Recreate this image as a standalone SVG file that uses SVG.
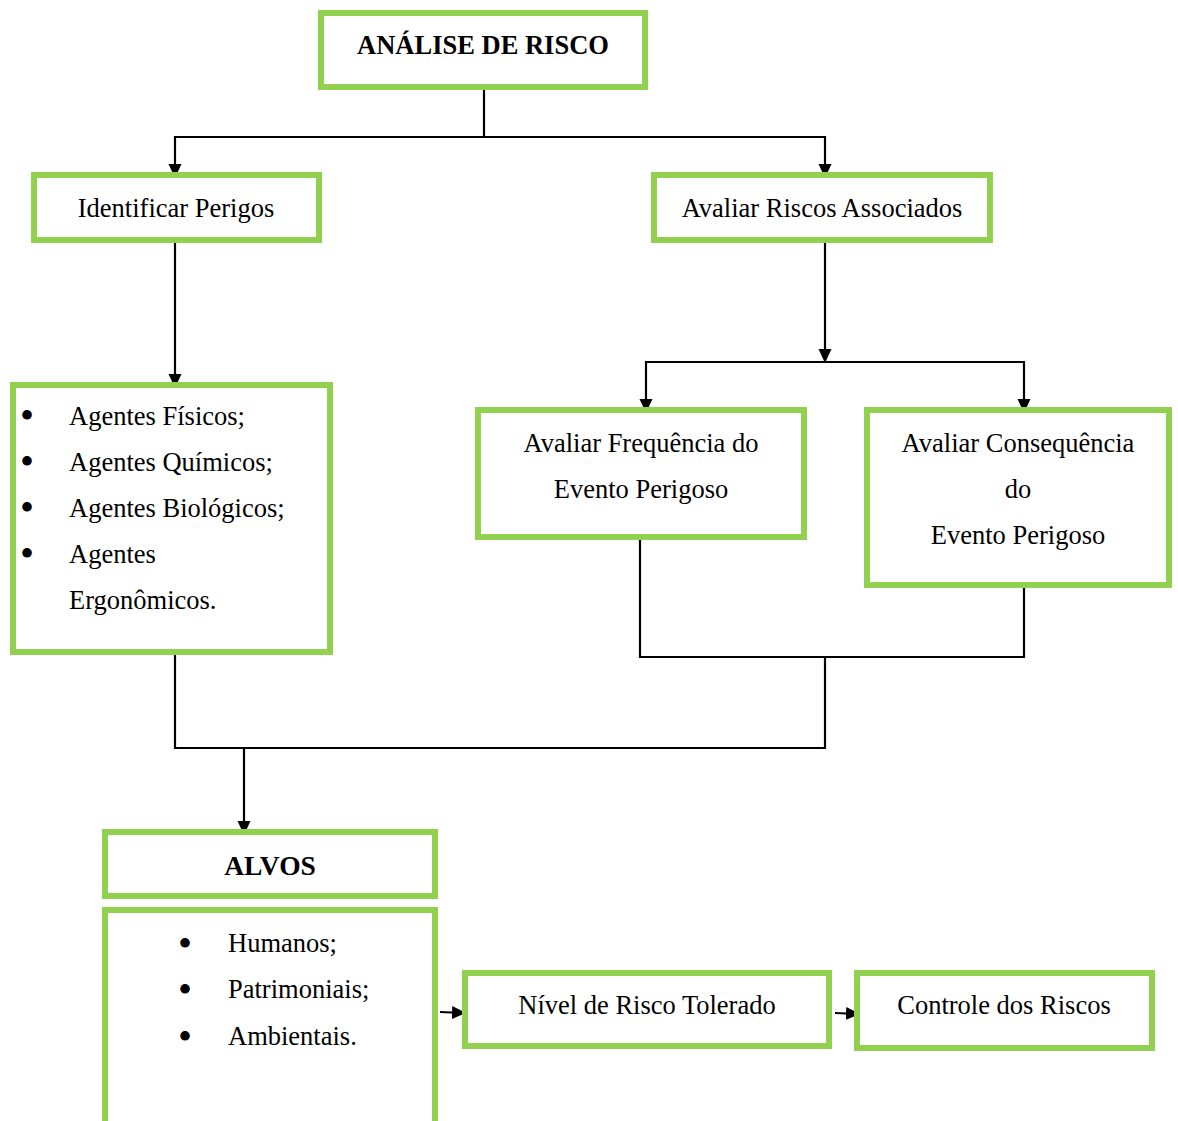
<svg xmlns="http://www.w3.org/2000/svg" width="1178" height="1121" viewBox="0 0 1178 1121">
<style>
.box{fill:#fff;stroke:#92D050;stroke-width:6}
.t{font-family:"Liberation Serif","Times New Roman",serif;font-size:26.5px;fill:#000}
.c{text-anchor:middle}
.b{font-weight:bold}
.bu{font-family:"Liberation Serif","Times New Roman",serif;font-size:40px;fill:#000;text-anchor:middle}
.ln{fill:none;stroke:#000;stroke-width:2.2}
</style>
<defs>
<marker id="ah" viewBox="0 0 14 14" refX="12" refY="7" markerWidth="14" markerHeight="14" orient="auto" markerUnits="userSpaceOnUse">
<path d="M0,0.5 L14,7 L0,13.5 Z" fill="#000"/>
</marker>
</defs>
<rect width="1178" height="1121" fill="#fff"/>
<g id="connectors">
<polyline class="ln" points="484,90 484,137"/>
<polyline class="ln" points="175,137 175,176" marker-end="url(#ah)"/>
<polyline class="ln" points="825,137 825,176" marker-end="url(#ah)"/>
<line class="ln" x1="174" y1="137" x2="826" y2="137"/>
<polyline class="ln" points="175,243 175,386" marker-end="url(#ah)"/>
<polyline class="ln" points="825,243 825,361" marker-end="url(#ah)"/>
<line class="ln" x1="645" y1="362" x2="1025" y2="362"/>
<polyline class="ln" points="646,362 646,411" marker-end="url(#ah)"/>
<polyline class="ln" points="1024,362 1024,411" marker-end="url(#ah)"/>
<polyline class="ln" points="640,540 640,657 1024,657 1024,588"/>
<polyline class="ln" points="825,657 825,748 175,748 175,655"/>
<polyline class="ln" points="244,748 244,833" marker-end="url(#ah)"/>
<polyline class="ln" points="440,1012 464,1013" marker-end="url(#ah)"/>
<polyline class="ln" points="835,1013 858,1014" marker-end="url(#ah)"/>
</g>
<g id="analise">
<rect class="box" x="321" y="13" width="324" height="74"/>
<text class="t c b" x="483" y="54">ANÁLISE DE RISCO</text>
</g>
<g id="identificar">
<rect class="box" x="34" y="175" width="285" height="65"/>
<text class="t c" x="176" y="217">Identificar Perigos</text>
</g>
<g id="avaliar-riscos">
<rect class="box" x="654" y="175" width="336" height="65"/>
<text class="t c" x="822" y="217">Avaliar Riscos Associados</text>
</g>
<g id="agentes">
<rect class="box" x="13" y="385" width="317" height="267"/>
<text class="bu" x="27" y="429">•</text>
<text class="t" x="69" y="425">Agentes Físicos;</text>
<text class="bu" x="27" y="475">•</text>
<text class="t" x="69" y="471">Agentes Químicos;</text>
<text class="bu" x="27" y="521">•</text>
<text class="t" x="69" y="517">Agentes Biológicos;</text>
<text class="bu" x="27" y="567">•</text>
<text class="t" x="69" y="563">Agentes</text>
<text class="t" x="69" y="609">Ergonômicos.</text>
</g>
<g id="frequencia">
<rect class="box" x="478" y="410" width="326" height="127"/>
<text class="t c" x="641" y="452">Avaliar Frequência do</text>
<text class="t c" x="641" y="498">Evento Perigoso</text>
</g>
<g id="consequencia">
<rect class="box" x="867" y="410" width="302" height="175"/>
<text class="t c" x="1018" y="452">Avaliar Consequência</text>
<text class="t c" x="1018" y="498">do</text>
<text class="t c" x="1018" y="544">Evento Perigoso</text>
</g>
<g id="alvos">
<rect class="box" x="105" y="832" width="330" height="64"/>
<text class="t c b" x="270" y="875" style="font-size:27.5px">ALVOS</text>
</g>
<g id="alvos-lista">
<rect class="box" x="105" y="910" width="330" height="240"/>
<text class="bu" x="185" y="957">•</text>
<text class="t" x="228" y="952">Humanos;</text>
<text class="bu" x="185" y="1003">•</text>
<text class="t" x="228" y="998">Patrimoniais;</text>
<text class="bu" x="185" y="1050">•</text>
<text class="t" x="228" y="1045">Ambientais.</text>
</g>
<g id="nivel">
<rect class="box" x="465" y="973" width="364" height="73"/>
<text class="t c" x="647" y="1014">Nível de Risco Tolerado</text>
</g>
<g id="controle">
<rect class="box" x="857" y="973" width="295" height="75"/>
<text class="t c" x="1004" y="1014">Controle dos Riscos</text>
</g>
</svg>
